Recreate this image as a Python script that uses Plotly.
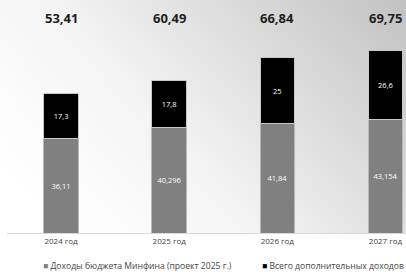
import plotly.graph_objects as go

categories = ["2024 год", "2025 год", "2026 год", "2027 год"]
minfin = [36.11, 40.296, 41.84, 43.154]
extra = [17.3, 17.8, 25, 26.6]
totals = ["53,41", "60,49", "66,84", "69,75"]
minfin_labels = ["36,11", "40,296", "41,84", "43,154"]
extra_labels = ["17,3", "17,8", "25", "26,6"]
legend_names = ["Доходы бюджета Минфина (проект 2025 г.)", "Всего дополнительных доходов"]

FONT = "Open Sans"
W, H = 406, 272
ML, MB = 7, 39
PW, PH = W - ML, H - MB

fig = go.Figure()
fig.add_trace(go.Bar(
    x=categories, y=minfin, name=legend_names[0],
    marker=dict(color="#808080", line=dict(color="#b8b8b8", width=1)),
    text=minfin_labels, textposition="inside", insidetextanchor="middle",
    textfont=dict(color="white", size=7.5, family=FONT),
))
fig.add_trace(go.Bar(
    x=categories, y=extra, name=legend_names[1],
    marker=dict(color="#000000", line=dict(color="#c8c8c8", width=1)),
    text=extra_labels, textposition="inside", insidetextanchor="middle",
    textfont=dict(color="white", size=7.5, family=FONT),
))

for c, t in zip(categories, totals):
    fig.add_annotation(x=c, y=82, text="<b>" + t + "</b>", showarrow=False,
                       font=dict(size=13, color="#1e1e1e", family=FONT),
                       xref="x", yref="y")

# legend drawn as annotations (pixel positions converted to paper coords)
def px(xp):
    return (xp - ML) / PW

def py(yp):
    return (PH - yp) / PH

fig.add_annotation(x=px(41), y=py(266), xref="paper", yref="paper", xanchor="left", yanchor="middle",
                   text="<span style='color:#808080'>■</span> " + legend_names[0],
                   showarrow=False, font=dict(size=8.6, color="#444444", family=FONT))
fig.add_annotation(x=px(260), y=py(266), xref="paper", yref="paper", xanchor="left", yanchor="middle",
                   text="<span style='color:#000000'>■</span> " + legend_names[1],
                   showarrow=False, font=dict(size=8.6, color="#444444", family=FONT))

svg = ("data:image/svg+xml;utf8,<svg xmlns='http://www.w3.org/2000/svg' width='406' height='272'>"
       "<defs><linearGradient id='g' x1='0' y1='0.75' x2='1' y2='0.15'>"
       "<stop offset='0' stop-color='%23ffffff'/><stop offset='0.35' stop-color='%23f4f4f4'/>"
       "<stop offset='1' stop-color='%23c2c2c2'/></linearGradient></defs>"
       "<rect width='406' height='272' fill='url(%23g)'/></svg>")

fig.update_layout(
    width=W, height=H,
    margin=dict(l=ML, r=0, t=0, b=MB),
    barmode="stack", bargap=0.68,
    showlegend=False,
    paper_bgcolor="rgba(0,0,0,0)", plot_bgcolor="rgba(0,0,0,0)",
    images=[dict(source=svg, xref="paper", yref="paper", x=-ML / PW, y=1 + MB / PH,
                 sizex=W / PW, sizey=H / PH, xanchor="left", yanchor="top",
                 sizing="stretch", layer="below")],
    xaxis=dict(range=[-0.5, 3.19], showline=True, linecolor="#d9d9d9", linewidth=1,
               ticks="", tickfont=dict(size=8, color="#444444", family=FONT),
               showgrid=False),
    yaxis=dict(range=[0, 88.9], visible=False, showgrid=False),
    uniformtext=dict(mode="show", minsize=6),
)

fig.write_html("out.html", config={"displayModeBar": False},
               post_script="document.body.style.margin='0';document.body.style.overflow='hidden';")
